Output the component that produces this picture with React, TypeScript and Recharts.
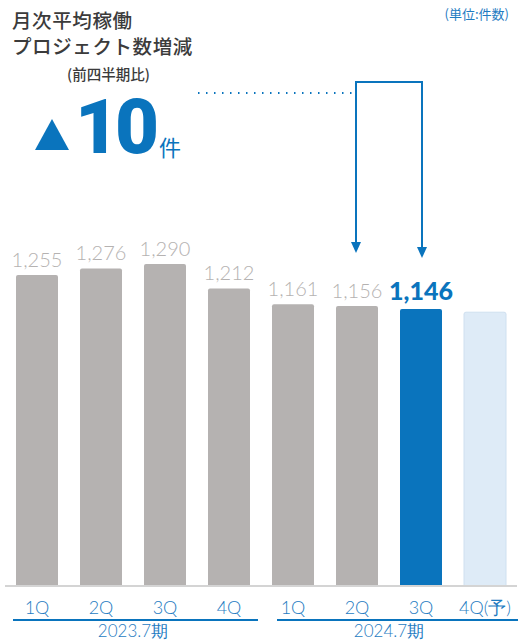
import React from "react"
import { BarChart, Bar, XAxis, YAxis, Cell, LabelList } from "recharts"

const quarters: string[] = ["1Q", "2Q", "3Q", "4Q", "1Q", "2Q", "3Q", "4Q(予)"]
const projects: number[] = [1255, 1276, 1290, 1212, 1161, 1156, 1146, 1136]
const shownLabels: boolean[] = [true, true, true, true, true, true, true, false]
const periods: string[] = ["2023.7期", "2024.7期"]

const GRAY = "#b5b2b1"
const BLUE = "#0a74bd"
const PALE = "#deebf7"
const JP = "'Noto Sans CJK JP', 'Noto Sans', sans-serif"
const NUM = "Lato, 'Open Sans', sans-serif"

const data = quarters.map((q, i) => ({ key: `${q}-${i}`, quarter: q, value: projects[i] }))

const fillFor = (i: number) => (i === 6 ? BLUE : i === 7 ? PALE : GRAY)

const renderValue = (props: any) => {
  const { x, y, width, value, index } = props
  if (typeof x !== "number" || typeof y !== "number" || typeof width !== "number") return null
  if (!shownLabels[index]) return null
  const cx = x + width / 2
  const strong = index === 6
  return (
    <text
      x={cx}
      y={y - (strong ? 9 : 8)}
      textAnchor="middle"
      fill={strong ? BLUE : GRAY}
      fontFamily={NUM}
      fontSize={strong ? 25 : 20}
      fontWeight={strong ? 900 : 300}
    >
      {Number(value).toLocaleString("en-US")}
    </text>
  )
}

const renderTick = (props: any) => {
  const { x, y, payload } = props
  return (
    <text x={x} y={y + 20} textAnchor="middle" fill="#1f7cc2" fontFamily={NUM} fontSize={18} fontWeight={300}>
      {quarters[payload.index] ?? payload.value}
    </text>
  )
}

export default function App() {
  return (
    <div style={{ position: "absolute", left: 0, top: 0, width: 529, height: 641, background: "#fff", fontFamily: JP }}>
      <BarChart
        width={529}
        height={641}
        data={data}
        margin={{ top: 24, right: 12, bottom: 0, left: 5 }}
        barCategoryGap={11}
      >
        <XAxis
          dataKey="key"
          height={55}
          tickLine={false}
          axisLine={{ stroke: "#d4d4d4", strokeWidth: 2 }}
          tick={renderTick}
          interval={0}
        />
        <YAxis hide domain={[260, 2058]} allowDataOverflow />
        <Bar dataKey="value" isAnimationActive={false} barSize={42} radius={[2, 2, 0, 0]}>
          {data.map((d, i) => (
            <Cell key={d.key} fill={fillFor(i)} stroke={i === 7 ? "#cfe0f0" : "none"} />
          ))}
          <LabelList dataKey="value" content={renderValue} />
        </Bar>
      </BarChart>

      <svg width={529} height={641} style={{ position: "absolute", left: 0, top: 0, pointerEvents: "none" }}>
        <line x1={198} y1={93} x2={354} y2={93} stroke={BLUE} strokeWidth={2} strokeDasharray="1.5 6.5" />
        <polyline points="356,247 356,82 422,82 422,252" fill="none" stroke={BLUE} strokeWidth={2} />
        <polygon points="351,242 361,242 356,253" fill={BLUE} />
        <polygon points="417,247 427,247 422,258" fill={BLUE} />
        <line x1={13} y1={620} x2={258} y2={620} stroke={BLUE} strokeWidth={2} />
        <line x1={277} y1={620} x2={518} y2={620} stroke={BLUE} strokeWidth={2} />
        <text x={133} y={637} textAnchor="middle" fill="#1f7cc2" fontFamily={NUM} fontSize={17} fontWeight={300}>
          {periods[0]}
        </text>
        <text x={389} y={637} textAnchor="middle" fill="#1f7cc2" fontFamily={NUM} fontSize={17} fontWeight={300}>
          {periods[1]}
        </text>
      </svg>

      <div style={{ position: "absolute", left: 12, top: 9, fontSize: 19.5, lineHeight: "22px", fontWeight: 500, color: "#3b3b3b", letterSpacing: 0.6 }}>
        月次平均稼働
      </div>
      <div style={{ position: "absolute", left: 12, top: 35, fontSize: 19.5, lineHeight: "22px", fontWeight: 500, color: "#3b3b3b", letterSpacing: 0.6 }}>
        プロジェクト数増減
      </div>
      <div style={{ position: "absolute", left: 67, top: 63, fontSize: 14.5, color: "#3b3b3b", fontWeight: 500 }}>(前四半期比)</div>
      <div style={{ position: "absolute", right: 20, top: 4, fontSize: 13, color: "#1f7cc2" }}>(単位:件数)</div>

      <svg width={40} height={40} style={{ position: "absolute", left: 33, top: 115 }}>
        <polygon points="19,4 36,35 2,35" fill={BLUE} />
      </svg>
      <div
        style={{
          position: "absolute",
          left: 75,
          top: 82,
          fontFamily: "Roboto, Arial, sans-serif",
          fontWeight: 900,
          fontSize: 76,
          lineHeight: "90px",
          color: BLUE,
          letterSpacing: -4,
        }}
      >
        10
      </div>
      <div style={{ position: "absolute", left: 159, top: 130, fontSize: 22, color: BLUE }}>件</div>
    </div>
  )
}
